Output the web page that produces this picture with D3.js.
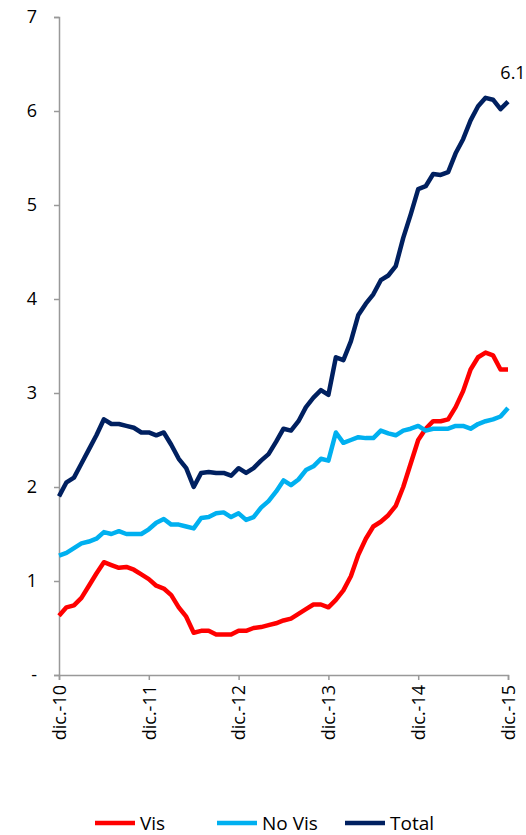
<!DOCTYPE html>
<html><head><meta charset="utf-8">
<script src="https://cdn.jsdelivr.net/npm/d3@7"></script>
<style>body{margin:0;background:#fff}text{font-family:"Open Sans",sans-serif}</style>
</head><body><svg id="c" width="526" height="835"></svg>
<script>
// valori mensili dic-10 .. dic-15
var vis=[0.63,0.72,0.74,0.82,0.95,1.08,1.2,1.17,1.14,1.15,1.12,1.07,1.02,0.95,0.92,0.85,0.72,0.62,0.45,0.47,0.47,0.43,0.43,0.43,0.47,0.47,0.5,0.51,0.53,0.55,0.58,0.6,0.65,0.7,0.75,0.75,0.72,0.8,0.9,1.05,1.28,1.45,1.58,1.63,1.7,1.8,2.0,2.25,2.5,2.62,2.7,2.7,2.72,2.85,3.02,3.25,3.38,3.43,3.4,3.25,3.25];
var noVis=[1.27,1.3,1.35,1.4,1.42,1.45,1.52,1.5,1.53,1.5,1.5,1.5,1.55,1.62,1.66,1.6,1.6,1.58,1.56,1.67,1.68,1.72,1.73,1.68,1.72,1.65,1.68,1.78,1.85,1.95,2.07,2.02,2.08,2.18,2.22,2.3,2.28,2.58,2.47,2.5,2.53,2.52,2.52,2.6,2.57,2.55,2.6,2.62,2.65,2.6,2.62,2.62,2.62,2.65,2.65,2.62,2.67,2.7,2.72,2.75,2.84];
var total=[1.9,2.05,2.1,2.25,2.4,2.55,2.72,2.67,2.67,2.65,2.63,2.58,2.58,2.55,2.58,2.45,2.3,2.2,2.0,2.15,2.16,2.15,2.15,2.12,2.2,2.15,2.2,2.28,2.35,2.48,2.62,2.6,2.7,2.85,2.95,3.03,2.98,3.38,3.35,3.55,3.83,3.95,4.05,4.2,4.25,4.35,4.65,4.9,5.17,5.2,5.33,5.32,5.35,5.55,5.7,5.9,6.05,6.14,6.12,6.02,6.1];
var xLabels=["dic.-10","dic.-11","dic.-12","dic.-13","dic.-14","dic.-15"];
var yTicks=[0,1,2,3,4,5,6,7];
var series=[{name:"Vis",values:vis,color:"#ff0000"},{name:"No Vis",values:noVis,color:"#00b0f0"},{name:"Total",values:total,color:"#002060"}];

var svg=d3.select("#c");
var x=d3.scaleLinear().domain([0,60]).range([59,508]);
var y=d3.scaleLinear().domain([0,7]).range([675,17]);

var ya=svg.append("g").attr("transform","translate(59,0)")
  .call(d3.axisLeft(y).tickValues(yTicks).tickSize(5).tickFormat(function(d){return d==0?"-":d;}));
var xa=svg.append("g").attr("transform","translate(0,675)")
  .call(d3.axisBottom(x).tickValues([0,12,24,36,48,60]).tickSize(5).tickFormat(function(d,i){return xLabels[i];}));
[ya,xa].forEach(function(a){a.selectAll("path,line").attr("stroke","#999").attr("stroke-width",1.5);a.selectAll("text").attr("fill","#000").style("font-size","18px");});
ya.selectAll("text").attr("x",-22);
xa.selectAll("text").attr("transform","rotate(-90)").attr("text-anchor","end").attr("x",-10).attr("y",0).attr("dy","0.35em");

var line=d3.line().x(function(d,i){return x(i);}).y(function(d){return y(d);});
series.forEach(function(s){
  svg.append("path").attr("d",line(s.values)).attr("fill","none").attr("stroke",s.color).attr("stroke-width",4.5).attr("stroke-linejoin","round");
});
svg.append("text").attr("x",x(60)+5).attr("y",y(6.1)-23).attr("text-anchor","middle").style("font-size","18px").text("6.1");

var lg=svg.append("g");
var lx=[95,217,345];
series.forEach(function(s,i){
  lg.append("line").attr("x1",lx[i]).attr("x2",lx[i]+40).attr("y1",823).attr("y2",823).attr("stroke",s.color).attr("stroke-width",4.5);
  lg.append("text").attr("x",lx[i]+45).attr("y",823).attr("dy","0.35em").style("font-size","19px").text(s.name);
});
</script></body></html>
